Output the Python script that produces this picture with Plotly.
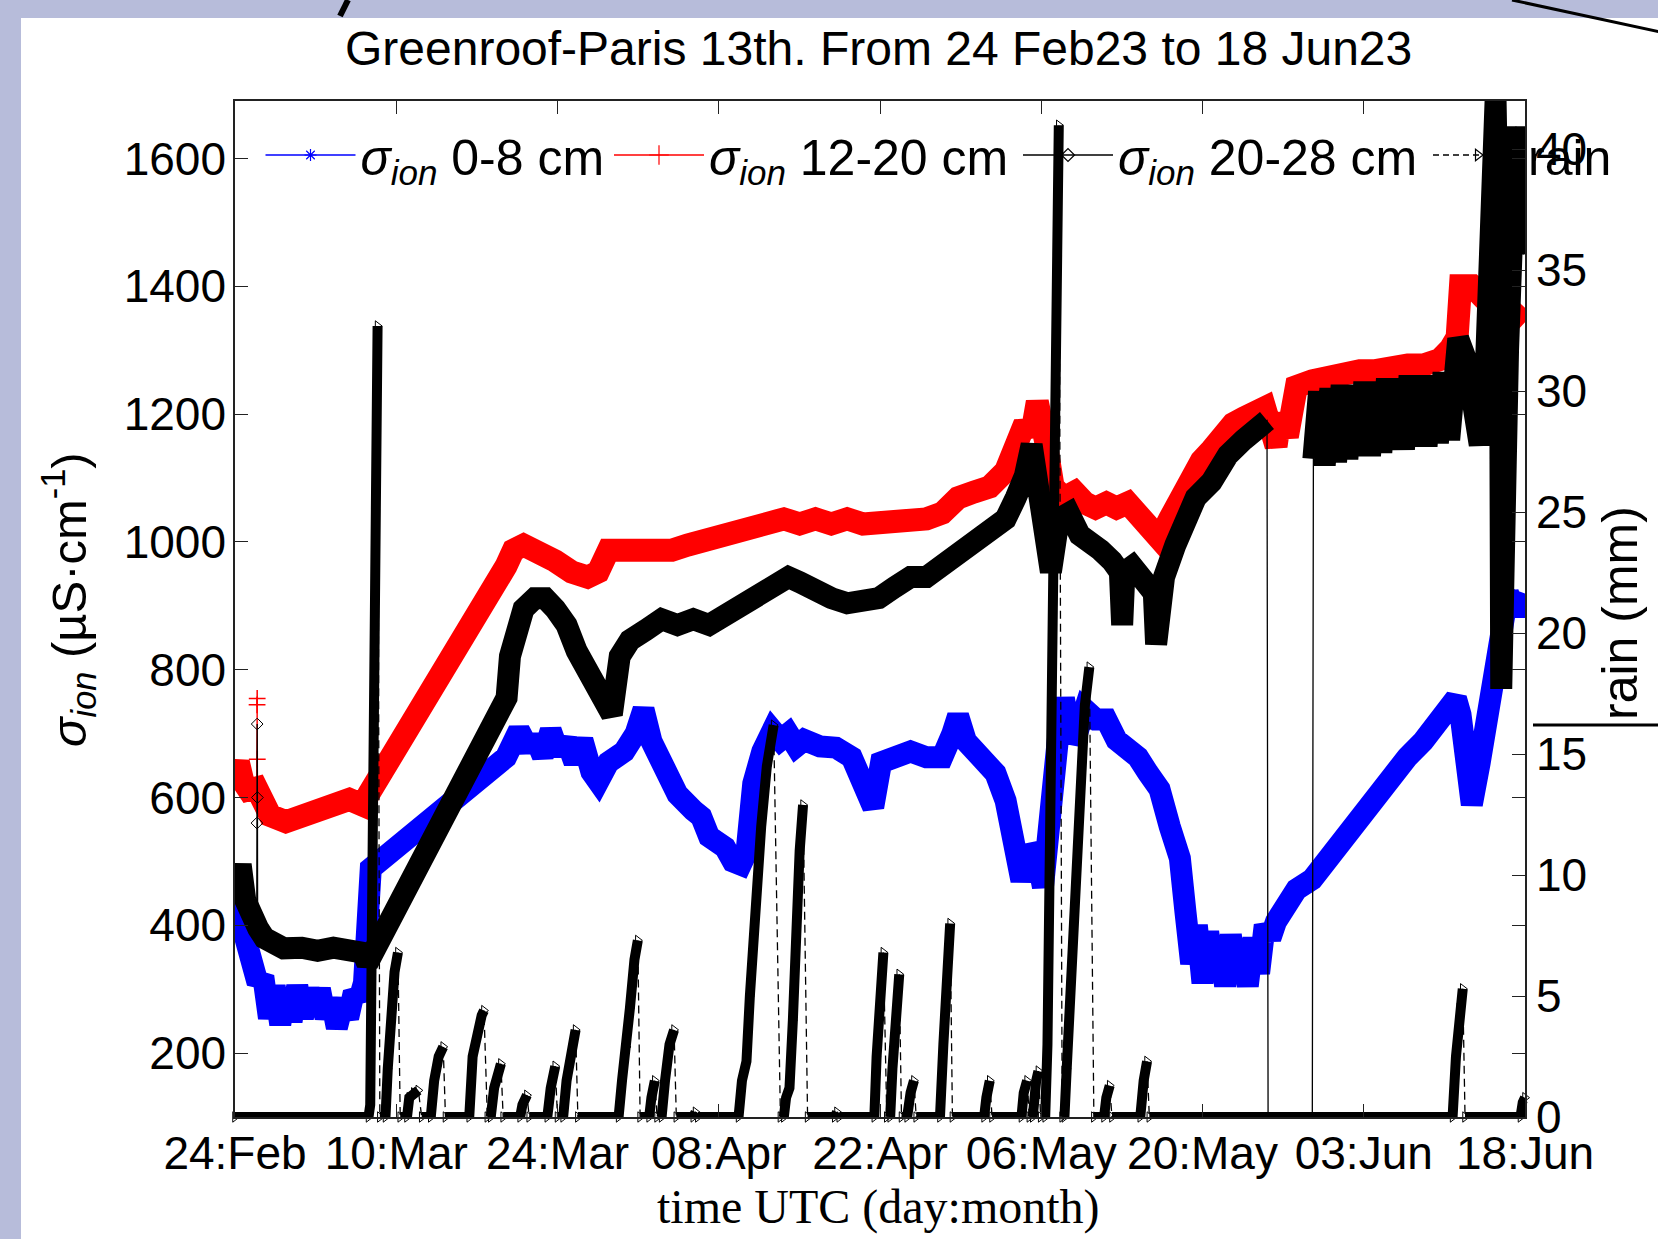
import pandas as pd
import plotly.graph_objects as go

# ---------------- data ----------------
START = pd.Timestamp("2023-02-24 00:00")
END = pd.Timestamp("2023-06-18 00:00")
tick_labels = ["24:Feb", "10:Mar", "24:Mar", "08:Apr", "22:Apr",
               "06:May", "20:May", "03:Jun", "18:Jun"]
left_ticks = [200, 400, 600, 800, 1000, 1200, 1400, 1600]
right_ticks = [0, 5, 10, 15, 20, 25, 30, 35, 40]

# days since 24 Feb 2023, conductivity (uS/cm) - 0-8 cm
blue_days = [0, 0.3, 0.6, 1.2, 2.0, 2.5, 3.0, 3.5, 4.0, 4.5, 5.0, 5.5, 6.0, 6.5, 7.0, 7.5,
             8.0, 8.5, 9.0, 9.5, 10.0, 10.5, 11.0, 11.4, 11.7, 12.0, 23.95, 25.1, 26.0,
             26.5, 27.2, 27.9, 28.6, 29.3, 30.0, 30.7, 31.5, 32.1, 33.0, 34.4, 35.4, 36.1,
             36.8, 37.7, 38.4, 39.1, 40.5, 41.2, 41.9, 43.3, 44.0, 44.7, 45.2, 45.4, 45.8,
             46.6, 47.5, 48.2, 48.9, 49.6, 50.3, 51.7, 53.1, 54.5, 55.5, 56.4, 57.1, 58.3,
             59.7, 61.1, 62.5, 63.4, 63.9, 64.6, 65.8, 67.2, 68.1, 69.0, 69.5, 70.2, 70.9,
             71.4, 71.8, 72.3, 72.8, 73.25, 73.9, 74.5, 75.1, 76.1, 77.0, 77.9, 78.9, 79.8,
             80.7, 81.7, 82.6, 83.5, 84.0, 84.5, 85.0, 85.5, 86.0, 86.5, 87.0, 87.5, 88.0,
             88.5, 89.0, 89.5, 90.0, 90.5, 91.0, 91.5, 92.0, 92.9, 93.8, 95.2, 96.6, 98.0,
             99.4, 100.8, 102.2, 103.6, 105.0, 106.5, 107.4, 107.9, 108.3, 108.8, 109.3,
             110.0, 110.7, 111.3, 111.9, 112.5, 113.2, 113.9]
blue_vals = [410, 440, 400, 350, 310, 320, 255, 305, 245, 300, 250, 305, 255, 300, 260, 300,
             255, 285, 240, 275, 255, 295, 285, 310, 360, 489, 663, 705, 675,
             695, 665, 705, 670, 690, 655, 690, 640, 625, 655, 672, 700, 738,
             688, 655, 640, 605, 580, 570, 539, 522, 500, 495, 514, 613, 622,
             672, 705, 690, 700, 680, 690, 680, 678, 663, 613, 585, 655, 663,
             672, 663, 663, 700, 728, 688, 663, 638, 595, 530, 470, 522, 505,
             460, 539, 672, 705, 755, 688, 705, 738, 722, 722, 690, 680, 663,
             638, 613, 555, 505, 420, 340, 400, 310, 390, 315, 380, 305, 385,
             310, 375, 305, 380, 325, 400, 380, 406, 439, 456, 472, 505, 530,
             564, 597, 630, 663, 688, 722, 746, 755, 730, 638, 589,
             655, 722, 788, 862, 920, 887, 920]

# 12-20 cm
red_days = [0, 0.3, 0.7, 1.2, 1.9, 2.25, 3.1, 4.5, 5.9, 7.3, 8.7, 10.1, 11.3, 11.8,
            23.95, 24.6, 25.5, 26.9, 28.3, 29.75, 31.15, 32.1, 33.0, 34.4, 35.8, 37.2, 38.6,
            40.0, 41.4, 42.8, 44.25, 45.65, 47.05, 48.5, 49.9, 51.3, 52.7, 54.1, 55.5, 56.9,
            58.3, 59.7, 61.1, 62.5, 63.9, 65.3, 66.7, 68.1, 69.0, 69.8, 70.4, 70.9, 71.7,
            72.3, 73.25, 74.2, 75.1, 76.05, 77.0, 77.9, 78.9, 79.8, 80.7, 81.7, 82.6, 83.5,
            84.5, 85.4, 86.3, 87.3, 88.2, 89.15, 90.1, 91.0, 92.0, 92.4, 93.0, 93.8, 95.2,
            96.6, 98.0, 99.4, 100.8, 102.2, 103.65, 105.05, 106.45, 107.4, 108.0, 108.3,
            109.3, 110.2, 111.1, 112.1, 113.0, 113.9]
red_vals = [640, 655, 625, 612, 615, 595, 572, 562, 570, 578, 588, 597, 588, 605,
            962, 987, 995, 987, 970, 953, 945, 953, 987, 987, 987, 978, 987,
            995, 1003, 1011, 1020, 1020, 1028, 1036, 1028, 1036, 1028, 1036, 1028, 1028,
            1028, 1036, 1036, 1045, 1069, 1078, 1086, 1111, 1152, 1185, 1168, 1219, 1152,
            1086, 1069, 1078, 1061, 1053, 1061, 1053, 1061, 1045, 1028, 1005, 1036, 1069,
            1103, 1127, 1144, 1169, 1185, 1194, 1202, 1210, 1150, 1200, 1165, 1243, 1252,
            1260, 1268, 1268, 1268, 1277, 1277, 1277, 1285, 1302, 1320, 1401,
            1401, 1384, 1368, 1368, 1351, 1368]
red_spike_days = [1.92, 1.95, 1.96, 1.97, 2.0]
red_spike_vals = [615, 745, 755, 660, 615]

# 20-28 cm
black_days = [0, 0.5, 0.9, 1.5, 2.05, 2.6, 4.3, 5.9, 7.3, 8.7, 10.1, 11.3, 11.7,
              24.0, 24.3, 24.8, 25.5, 26.5, 27.4, 28.3, 29.3, 30.2, 31.15, 32.1, 33.0, 33.3,
              34.0, 34.9, 36.3, 37.7, 39.1, 40.5, 41.9, 43.3, 44.7, 46.1, 47.5, 48.9, 49.9,
              51.3, 52.7, 54.1, 55.5, 56.9, 58.3, 59.7, 61.1, 62.5, 63.9, 65.3, 66.7, 68.1,
              69.0, 69.8, 70.4, 71.1, 71.7, 72.1, 72.8, 73.7, 74.65, 75.6, 76.5, 77.5, 78.2,
              78.4, 78.6, 79.3, 80.3, 81.2, 81.4, 81.6, 82.1, 83.1, 84.0, 84.9, 86.3, 87.75,
              89.15, 90.55, 91.2, 91.3, 95.2, 95.3, 95.8, 96.3, 96.8, 97.3, 97.8, 98.3, 98.8,
              99.3, 99.8, 100.3, 100.8, 101.3, 101.8, 102.3, 102.8, 103.3, 103.8, 104.3,
              104.8, 105.3, 105.8, 106.3, 106.8, 107.3, 107.6, 108.1, 108.8, 109.45, 110.0,
              110.5, 110.9, 111.4, 111.8, 111.9, 112.1, 112.5, 112.9, 113.2, 113.5, 113.9]
black_vals = [437, 495, 440, 405, 395, 380, 364, 365, 360, 365, 365, 357, 340,
              756, 821, 870, 895, 912, 912, 895, 870, 829, 796, 763, 746, 730,
              821, 846, 862, 879, 870, 879, 870, 887, 904, 912, 929, 945, 937,
              920, 912, 904, 904, 912, 929, 945, 945, 962, 987, 1003, 1011, 1036,
              1069, 1103, 1152, 1053, 987, 953, 1036, 1045, 1011, 1003, 987, 970, 953,
              870, 953, 962, 945, 920, 840, 930, 945, 995, 1036, 1069, 1094, 1136,
              1160, 1185, 1190, 50, 50, 1130, 1235, 1120, 1240, 1125, 1245, 1130, 1245,
              1135, 1250, 1135, 1250, 1140, 1255, 1145, 1255, 1145, 1260, 1150,
              1260, 1150, 1260, 1155, 1265, 1160, 1270, 1318, 1285, 1219, 1152,
              1252, 1417, 1690, 1300, 770, 950, 1300, 1600, 1650, 1500, 1450]
black_spike_days = [1.92, 1.94, 1.96, 1.98, 2.0]
black_spike_vals = [400, 560, 715, 600, 400]

# rain (mm), right axis
rain_days = [0, 11.8, 11.95, 12.1, 12.25, 12.4, 12.6, 12.8,
             13.3, 13.5, 13.8, 14.1, 14.4, 14.6,
             15.2, 15.4, 15.8, 16.2, 16.5,
             17.3, 17.6, 18.0, 18.4, 18.6,
             20.7, 21.0, 21.4, 21.8, 22.0, 22.3,
             22.6, 22.9, 23.3, 23.5, 23.7,
             25.2, 25.4, 25.8, 26.0,
             27.6, 27.9, 28.3, 28.5,
             29.0, 29.3, 29.7, 30.1, 30.3,
             33.9, 34.2, 34.6, 34.9, 35.3, 35.6, 35.8,
             36.6, 36.8, 37.1, 37.3,
             37.7, 38.0, 38.4, 38.8, 39.0,
             40.5, 40.7, 40.9,
             44.5, 44.8, 45.2, 45.5, 46.0, 46.5, 47.0, 47.6, 48.2,
             48.5, 48.7, 49.0, 49.3, 49.6, 49.9, 50.2, 50.6,
             53.0, 53.2, 53.4,
             56.5, 56.7, 57.0, 57.3, 57.6,
             57.9, 58.1, 58.4, 58.7, 58.9,
             59.4, 59.7, 60.0, 60.2,
             62.3, 62.6, 62.9, 63.2, 63.4,
             66.2, 66.4, 66.7, 66.9,
             69.5, 69.7, 70.0, 70.2,
             70.5, 70.8, 71.0, 71.2,
             71.6, 71.8, 72.0, 72.2, 72.4, 72.6, 72.8, 73.1,
             73.3, 73.5, 73.9, 74.3, 74.7, 75.1, 75.5, 75.9,
             76.8, 77.0, 77.3, 77.5,
             80.0, 80.3, 80.6, 80.8,
             107.6, 107.9, 108.2, 108.5, 108.7,
             113.6, 113.8, 114.0]
rain_vals = [0, 0, 0.5, 8, 20, 28, 32.7, 0,
             0, 2, 4.5, 6.0, 6.8, 0,
             0, 0.8, 1.0, 1.1, 0,
             0, 1.5, 2.5, 2.9, 0,
             0, 2.5, 3.5, 4.2, 4.4, 0,
             0, 1.2, 2.0, 2.2, 0,
             0, 0.5, 0.9, 0,
             0, 1.2, 2.1, 0,
             0, 1.5, 2.8, 3.6, 0,
             0, 1.5, 2.9, 4.5, 6.5, 7.3, 0,
             0, 0.8, 1.5, 0,
             0, 1.5, 3.0, 3.6, 0,
             0, 0.2, 0,
             0, 1.5, 2.3, 5, 9, 12, 14.5, 16.2, 0,
             0, 0.8, 1.2, 4, 8, 11, 12.9, 0,
             0, 0.2, 0,
             0, 2.5, 5, 6.8, 0,
             0, 2, 4.5, 5.9, 0,
             0, 1.0, 1.5, 0,
             0, 3, 6, 8.0, 0,
             0, 0.8, 1.5, 0,
             0, 1.0, 1.5, 0,
             0, 1.5, 1.9, 0,
             0, 3, 10, 20, 30, 37, 41.0, 0,
             0, 2, 6, 10.3, 14, 17, 18.6, 0,
             0, 0.8, 1.3, 0,
             0, 1.5, 2.3, 0,
             0, 2.5, 4.5, 5.3, 0,
             0, 0.6, 0.8]

legend_names = ["<i>σ</i><sub><i>ion</i></sub> 0-8 cm",
                "<i>σ</i><sub><i>ion</i></sub> 12-20 cm",
                "<i>σ</i><sub><i>ion</i></sub> 20-28 cm",
                "rain"]


# ---------------- helpers ----------------
def to_time(days):
    return [None if d is None else START + pd.to_timedelta(d, unit="D") for d in days]


PL, PR, PT, PB = 235, 1525, 101, 1117


def px(x):
    return (x - PL) / (PR - PL)


def py(y):
    return (PB - y) / (PB - PT)


SANS = "Liberation Sans, Arial, sans-serif"
SERIF = "Liberation Serif, Times New Roman, serif"
FS = 46

fig = go.Figure()

# bands (thick) for conductivities
fig.add_trace(go.Scatter(x=to_time(blue_days), y=blue_vals, mode="lines",
                         line=dict(color="#0000ff", width=22), showlegend=False, hoverinfo="skip"))
fig.add_trace(go.Scatter(x=to_time(red_days), y=red_vals, mode="lines",
                         line=dict(color="#ff0000", width=23), showlegend=False, hoverinfo="skip"))
fig.add_trace(go.Scatter(x=to_time(red_spike_days), y=red_spike_vals, mode="lines+markers",
                         line=dict(color="#ff0000", width=1.3),
                         marker=dict(symbol="cross-thin-open", size=12, color="#ff0000",
                                     line=dict(width=1.5, color="#ff0000")),
                         showlegend=False, hoverinfo="skip"))
black_band = [v if v >= 150 else None for v in black_vals]
fig.add_trace(go.Scatter(x=to_time(black_days), y=black_band, mode="lines",
                         line=dict(color="#000000", width=22), showlegend=False,
                         connectgaps=False, hoverinfo="skip"))
fig.add_trace(go.Scatter(x=to_time(black_days), y=black_vals, mode="lines",
                         line=dict(color="#000000", width=1.3), showlegend=False, hoverinfo="skip"))
fig.add_trace(go.Scatter(x=to_time(black_spike_days), y=black_spike_vals, mode="lines+markers",
                         line=dict(color="#000000", width=1.3),
                         marker=dict(symbol="diamond-open", size=9, color="#000000",
                                     line=dict(width=1, color="#000000")),
                         showlegend=False, hoverinfo="skip"))

# rain: thick rising parts + thin dashed full line + triangle markers
rain_band_days, rain_band = [], []
for i, (d, v) in enumerate(zip(rain_days, rain_vals)):
    if i > 0 and v < rain_vals[i - 1]:
        rain_band_days.append(None)
        rain_band.append(None)
    rain_band_days.append(d)
    rain_band.append(v)
fig.add_trace(go.Scatter(x=to_time(rain_band_days), y=rain_band, yaxis="y2", mode="lines",
                         line=dict(color="#000000", width=10), showlegend=False,
                         connectgaps=False, hoverinfo="skip"))
fig.add_trace(go.Scatter(x=to_time(rain_days), y=rain_vals, yaxis="y2", mode="lines+markers",
                         line=dict(color="#000000", width=1.3, dash="8px,5px"),
                         marker=dict(symbol="triangle-right-open", size=9, color="#000000",
                                     line=dict(width=1)),
                         cliponaxis=False, showlegend=False, hoverinfo="skip"))

# legend entries (one legend box per entry so each sits where the reference has it)
leg_styles = [
    dict(color="#0000ff", dash="solid", symbol="asterisk-open", size=10),
    dict(color="#ff0000", dash="solid", symbol="cross-thin-open", size=14),
    dict(color="#000000", dash="solid", symbol="diamond-open", size=10),
    dict(color="#000000", dash="6px,4px", symbol="triangle-right-open", size=10),
]
legend_ids = ["legend", "legend2", "legend3", "legend4"]
legend_left_px = [260.5, 609, 1018, 1428]
for name, st, lid in zip(legend_names, leg_styles, legend_ids):
    fig.add_trace(go.Scatter(x=[None], y=[None], name=name, mode="lines+markers",
                             yaxis="y2" if name == "rain" else "y", legend=lid,
                             line=dict(color=st["color"], width=1.3, dash=st["dash"]),
                             marker=dict(symbol=st["symbol"], size=st["size"], color=st["color"],
                                         line=dict(width=1.2, color=st["color"]))))

tickvals = [START + (END - START) * k / 8 for k in range(len(tick_labels))]

axis_common = dict(ticks="inside", ticklen=13, tickwidth=1.3, tickcolor="#222",
                   showline=True, linecolor="#222", linewidth=1.5, showgrid=False,
                   zeroline=False, tickfont=dict(family=SANS, size=FS, color="#000"))

legend_layout = {}
for lid, lx in zip(legend_ids, legend_left_px):
    legend_layout[lid] = dict(orientation="h", x=px(lx), xanchor="left", y=py(155),
                              yanchor="middle", bgcolor="rgba(0,0,0,0)", borderwidth=0,
                              itemwidth=90, font=dict(family=SANS, size=50, color="#000"))

fig.update_layout(
    width=1658, height=1239, autosize=False,
    margin=dict(l=PL, r=1658 - PR, t=PT, b=1239 - PB, pad=0),
    paper_bgcolor="#b7bcda", plot_bgcolor="#ffffff",
    font=dict(family=SANS, size=FS, color="#000"),
    xaxis=dict(type="date", range=[START, END], tickmode="array", tickvals=tickvals,
               ticktext=tick_labels, mirror="ticks", ticklabelstandoff=-5, **axis_common),
    yaxis=dict(range=[100, 1690], tickmode="array", tickvals=left_ticks,
               mirror="ticks", ticklabelstandoff=-2, **axis_common),
    yaxis2=dict(range=[0, 42], tickmode="array", tickvals=right_ticks, overlaying="y",
                side="right", ticklabelstandoff=0, **axis_common),
    showlegend=True,
    **legend_layout,
)

fig.update_layout(
    annotations=[
        dict(text="Greenroof-Paris 13th. From 24 Feb23 to 18 Jun23", xref="paper", yref="paper",
             x=px(878), y=py(48), xanchor="center", yanchor="middle", showarrow=False,
             font=dict(family=SANS, size=48, color="#000")),
        dict(text="time UTC (day:month)", xref="paper", yref="paper",
             x=px(878), y=py(1207), xanchor="center", yanchor="middle", showarrow=False,
             font=dict(family=SERIF, size=48, color="#000")),
        dict(text="<i>σ</i><sub><i>ion</i></sub> (µS·cm<sup>-1</sup>)", xref="paper", yref="paper",
             x=px(68), y=py(600), xanchor="center", yanchor="middle", showarrow=False,
             textangle=-90, font=dict(family=SANS, size=49, color="#000")),
        dict(text="rain (mm)", xref="paper", yref="paper",
             x=px(1620), y=py(613), xanchor="center", yanchor="middle", showarrow=False,
             textangle=-90, font=dict(family=SANS, size=50, color="#000")),
    ],
    shapes=[
        dict(type="rect", xref="paper", yref="paper", x0=px(21), x1=px(1700),
             y0=py(1260), y1=py(18), fillcolor="#ffffff", line=dict(width=0), layer="below"),
        dict(type="line", xref="paper", yref="paper", x0=px(1512), y0=py(0),
             x1=px(1660), y1=py(32), line=dict(color="#000", width=3)),
        dict(type="line", xref="paper", yref="paper", x0=px(1533), y0=py(725),
             x1=px(1660), y1=py(725), line=dict(color="#000", width=3)),
        dict(type="line", xref="paper", yref="paper", x0=px(348), y0=py(0),
             x1=px(340), y1=py(16), line=dict(color="#000", width=6)),
    ],
)

fig.write_html("out.html")
